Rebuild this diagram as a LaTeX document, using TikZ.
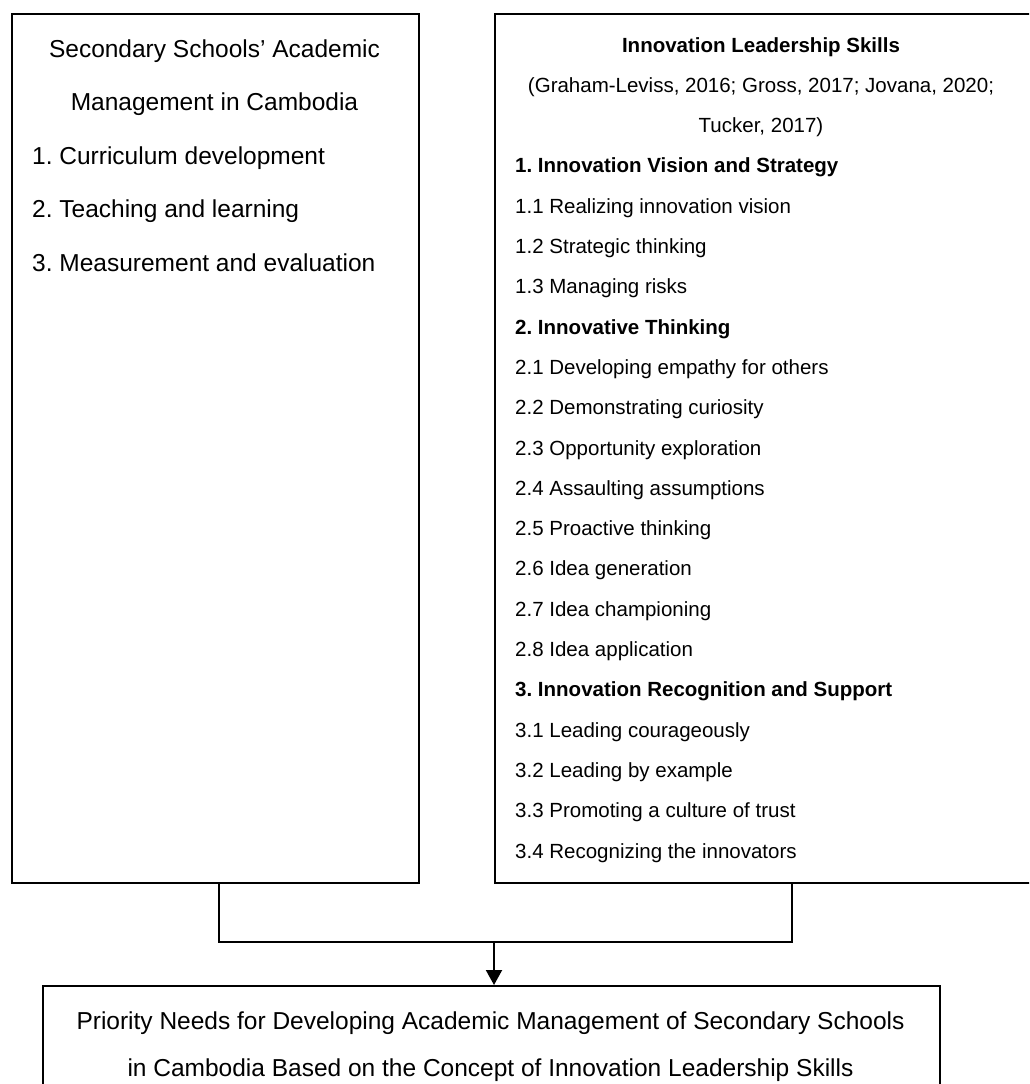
\documentclass[tikz,border=0pt]{standalone}
\usepackage{fontspec}
\setmainfont{Liberation Sans}
\frenchspacing
\usetikzlibrary{arrows.meta,calc}
\tikzset{
  boxframe/.style={draw=black, line width=2.2pt, anchor=north west, inner sep=0pt},
  bigtxt/.style={font=\fontsize{24.5}{28}\selectfont, inner sep=0pt},
  smalltxt/.style={font=\fontsize{20.5}{24}\selectfont, inner sep=0pt},
  conn/.style={line width=2pt, draw=black},
}
\begin{document}
\begin{tikzpicture}[x=1pt,y=-1pt]
\useasboundingbox (0,0) rectangle (1029,1084);
\clip (0,0) rectangle (1029,1084);
% boxes
\node[boxframe, minimum width=407pt, minimum height=869pt] (L) at (11,13) {};
\node[boxframe, minimum width=546pt, minimum height=869pt] (R) at (494,13) {};
\node[boxframe, minimum width=897pt, minimum height=130pt] (B) at (42,985) {};
% left text
\node[bigtxt, anchor=base] (l1) at (214.5,57) {Secondary Schools’ Academic};
\node[bigtxt, anchor=base] (l2) at (214.5,110.5) {Management in Cambodia};
\node[bigtxt, anchor=base west] (l3) at (32,164) {1. Curriculum development};
\node[bigtxt, anchor=base west] (l4) at (32,217.5) {2. Teaching and learning};
\node[bigtxt, anchor=base west] (l5) at (32,271) {3. Measurement and evaluation};
% right text
\node[smalltxt, anchor=base, font=\fontsize{20.5}{24}\selectfont\bfseries] (r0) at (761,52) {Innovation Leadership Skills};
\node[smalltxt, anchor=base] (r1) at (761,92.3) {(Graham-Leviss, 2016; Gross, 2017; Jovana, 2020;};
\node[smalltxt, anchor=base] (r2) at (761,132.6) {Tucker, 2017)};
\foreach \i/\t/\b in {3/{1. Innovation Vision and Strategy}/1,
                      4/{1.1 Realizing innovation vision}/0,
                      5/{1.2 Strategic thinking}/0,
                      6/{1.3 Managing risks}/0,
                      7/{2. Innovative Thinking}/1,
                      8/{2.1 Developing empathy for others}/0,
                      9/{2.2 Demonstrating curiosity}/0,
                      10/{2.3 Opportunity exploration}/0,
                      11/{2.4 Assaulting assumptions}/0,
                      12/{2.5 Proactive thinking}/0,
                      13/{2.6 Idea generation}/0,
                      14/{2.7 Idea championing}/0,
                      15/{2.8 Idea application}/0,
                      16/{3. Innovation Recognition and Support}/1,
                      17/{3.1 Leading courageously}/0,
                      18/{3.2 Leading by example}/0,
                      19/{3.3 Promoting a culture of trust}/0,
                      20/{3.4 Recognizing the innovators}/0}{
  \ifnum\b=1
    \node[smalltxt, anchor=base west, font=\fontsize{20.5}{24}\selectfont\bfseries] (r\i) at (515,52+40.3*\i) {\t};
  \else
    \node[smalltxt, anchor=base west] (r\i) at (515,52+40.3*\i) {\t};
  \fi
}
% bottom text
\node[bigtxt, anchor=base] (b1) at (490.5,1029.5) {Priority Needs for Developing Academic Management of Secondary Schools};
\node[bigtxt, anchor=base] (b2) at (490.5,1076) {in Cambodia Based on the Concept of Innovation Leadership Skills};
% connectors
\coordinate (J) at (494,942);
\draw[conn] ([xshift=3.5pt]L.south) |- (J);
\draw[conn] ([xshift=24pt]R.south) |- (J);
\draw[conn, -{Triangle[length=15pt,width=16pt]}] (J) -- (J |- B.north);
\end{tikzpicture}
\end{document}
